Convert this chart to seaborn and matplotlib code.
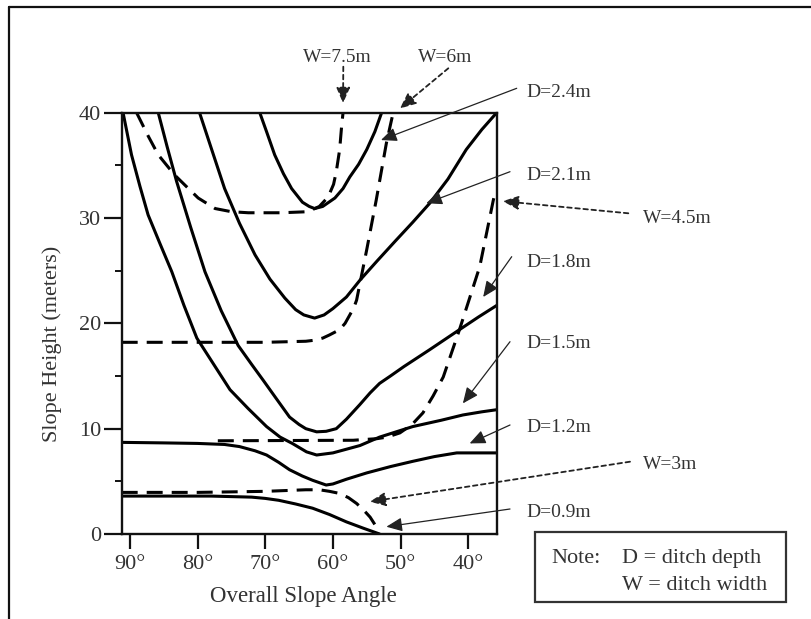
import matplotlib
matplotlib.use("Agg")
import matplotlib.pyplot as plt
from matplotlib.lines import Line2D
from matplotlib.patches import Rectangle
import seaborn as sns
import pandas as pd

# ---------------- data ----------------
# solid curves: ditch depth D
d09_angle = [91.2, 78.0, 72.0, 70.0, 68.0, 65.5, 63.0, 60.5, 58.0, 55.5, 53.1]
d09_height = [3.6, 3.6, 3.5, 3.38, 3.2, 2.85, 2.45, 1.85, 1.15, 0.55, 0.0]

d12_angle = [91.2, 85.0, 80.0, 76.0, 73.8, 71.5, 69.8, 68.0, 66.4, 64.5, 63.0, 61.0,
             60.0, 58.0, 55.0, 51.5, 48.2, 45.0, 41.7, 35.8]
d12_height = [8.7, 8.65, 8.6, 8.5, 8.3, 7.9, 7.5, 6.8, 6.1, 5.5, 5.1, 4.65,
              4.75, 5.2, 5.8, 6.4, 6.9, 7.35, 7.7, 7.7]

d15_angle = [91.0, 89.75, 88.5, 87.3, 85.5, 83.8, 82.0, 80.1, 77.5, 75.2, 72.5, 69.8,
             67.8, 66.0, 63.9, 62.4, 60.0, 56.0, 53.1, 48.2, 44.0, 40.8, 38.0, 35.8]
d15_height = [40.0, 36.0, 33.0, 30.3, 27.5, 24.9, 21.7, 18.6, 16.0, 13.7, 11.9, 10.2,
              9.2, 8.6, 7.8, 7.5, 7.7, 8.4, 9.2, 10.2, 10.8, 11.3, 11.6, 11.8]

d18_angle = [85.8, 84.5, 83.1, 81.0, 78.9, 76.5, 74.0, 72.0, 70.3, 68.3, 66.4, 65.0,
             64.0, 62.4, 61.0, 59.5, 58.0, 56.0, 54.5, 53.1, 51.5, 49.5, 45.7, 41.3,
             38.5, 35.8]
d18_height = [40.0, 36.8, 33.5, 29.1, 24.9, 21.2, 17.9, 16.1, 14.6, 12.8, 11.1, 10.4,
              10.0, 9.7, 9.75, 10.0, 10.9, 12.3, 13.4, 14.3, 15.0, 15.9, 17.5, 19.4,
              20.6, 21.7]

d21_angle = [79.7, 77.8, 76.0, 73.8, 71.5, 69.3, 67.1, 65.5, 64.3, 62.7, 61.3, 60.0,
             58.0, 56.0, 53.5, 50.8, 48.2, 45.7, 43.0, 40.3, 38.0, 35.8]
d21_height = [40.0, 36.3, 32.8, 29.5, 26.5, 24.2, 22.4, 21.3, 20.8, 20.5, 20.8, 21.4,
              22.5, 24.1, 25.9, 27.8, 29.6, 31.4, 33.7, 36.5, 38.4, 40.0]

d24_angle = [70.8, 69.8, 68.6, 67.3, 66.1, 64.5, 63.5, 62.7, 61.5, 59.7, 58.5, 57.5,
             56.2, 55.0, 53.8, 52.8]
d24_height = [40.0, 38.2, 36.0, 34.2, 32.8, 31.5, 31.1, 30.9, 31.1, 31.9, 32.8, 33.9,
              35.1, 36.5, 38.2, 40.0]

# dashed curves: ditch width W
w3_angle = [91.2, 80.0, 70.0, 64.0, 62.0, 60.5, 59.0, 57.7, 56.5, 55.5, 54.5, 53.8, 53.3]
w3_height = [3.95, 3.95, 4.05, 4.2, 4.2, 4.05, 3.85, 3.45, 2.9, 2.3, 1.6, 0.9, 0.2]

w45_angle = [77.0, 57.0, 53.5, 52.0, 50.1, 48.3, 46.7, 45.2, 43.7, 41.3, 38.3, 36.3, 36.1]
w45_height = [8.85, 8.9, 9.05, 9.2, 9.6, 10.4, 11.5, 13.1, 14.9, 19.4, 25.4, 31.7, 32.2]

w6_angle = [91.2, 80.0, 70.0, 64.0, 62.7, 61.5, 60.5, 59.0, 58.2, 57.5, 56.9, 56.5,
            55.0, 53.6, 52.1, 51.1]
w6_height = [18.2, 18.2, 18.2, 18.3, 18.4, 18.6, 18.9, 19.4, 20.0, 20.8, 21.5, 22.2,
             27.0, 31.7, 37.1, 40.0]

w75_angle = [89.0, 87.3, 85.8, 83.4, 81.5, 79.9, 77.4, 75.0, 72.5, 67.6, 63.7, 62.0,
             60.7, 59.9, 59.5, 59.0, 58.7, 58.5]
w75_height = [40.0, 37.8, 36.0, 34.1, 32.9, 31.9, 30.9, 30.6, 30.5, 30.5, 30.6, 31.1,
              32.0, 33.2, 34.4, 36.5, 38.8, 40.0]

x_ticks = [90, 80, 70, 60, 50, 40]
x_tick_labels = ["90°", "80°", "70°", "60°", "50°", "40°"]
y_ticks = [0, 10, 20, 30, 40]
y_minor = [5, 15, 25, 35]

# labels: text, label position (px, baseline px), arrow tail (px), arrow tip (angle, height), dotted?
labels = [
    ("W=7.5m", (303, 61.7), (343.3, 66.7), (58.5, 40.9), True),
    ("W=6m", (418, 61.7), (448.3, 68.3), (50.1, 40.4), True),
    ("D=2.4m", (526.7, 96.7), (516.7, 88.3), (52.9, 37.4), False),
    ("D=2.1m", (526.7, 180.0), (510.0, 171.7), (46.2, 31.4), False),
    ("W=4.5m", (643, 223.0), (628.3, 213.3), (34.9, 31.6), True),
    ("D=1.8m", (526.7, 266.7), (511.7, 256.7), (37.8, 22.5), False),
    ("D=1.5m", (526.7, 348.0), (510.0, 341.7), (40.8, 12.4), False),
    ("D=1.2m", (526.7, 432.0), (510.0, 425.0), (39.8, 8.6), False),
    ("W=3m", (643, 469.0), (630.0, 461.7), (54.55, 3.07), True),
    ("D=0.9m", (526.7, 517.0), (510.0, 509.0), (52.1, 0.69), False),
]

# ---------------- build table ----------------
curves = [
    ("D=0.9m", "D", d09_angle, d09_height),
    ("D=1.2m", "D", d12_angle, d12_height),
    ("D=1.5m", "D", d15_angle, d15_height),
    ("D=1.8m", "D", d18_angle, d18_height),
    ("D=2.1m", "D", d21_angle, d21_height),
    ("D=2.4m", "D", d24_angle, d24_height),
    ("W=3m", "W", w3_angle, w3_height),
    ("W=4.5m", "W", w45_angle, w45_height),
    ("W=6m", "W", w6_angle, w6_height),
    ("W=7.5m", "W", w75_angle, w75_height),
]
rows = []
for name, kind, a, h in curves:
    for ai, hi in zip(a, h):
        rows.append({"curve": name, "kind": kind, "angle": ai, "height": hi})
df = pd.DataFrame(rows)

# ---------------- style ----------------
sns.set_theme(style="ticks")
plt.rcParams["font.family"] = ["Liberation Serif", "DejaVu Serif"]
TXT = "#333333"

W_PX, H_PX = 812, 619
fig = plt.figure(figsize=(W_PX / 100, H_PX / 100), dpi=100)
fig.patch.set_facecolor("white")

def fx(px):
    return px / W_PX

def fy(py):
    return 1 - py / H_PX

L, R, T, B = 121.7, 496.7, 112.7, 534.0
ax = fig.add_axes([fx(L), fy(B), (R - L) / W_PX, (B - T) / H_PX])

lw = 2.2
sns.lineplot(
    data=df, x="angle", y="height", units="curve", estimator=None, sort=False,
    style="kind", dashes={"D": "", "W": (11.5 / lw, 6.5 / lw)},
    color="black", linewidth=lw, legend=False, ax=ax,
)
for ln in ax.get_lines():
    ln.set_solid_joinstyle("round")
    ln.set_dash_joinstyle("round")

ax.set_xlim(91.2, 35.8)
ax.set_ylim(0, 40)
ax.set_xticks(x_ticks)
ax.set_xticklabels(x_tick_labels)
ax.set_yticks(y_ticks)
ax.set_yticks(y_minor, minor=True)
ax.set_xlabel("")
ax.set_ylabel("")
for s in ax.spines.values():
    s.set_visible(True)
    s.set_linewidth(1.7)
    s.set_color("#111111")
ax.tick_params(axis="x", which="major", direction="out", length=11, width=1.6,
               pad=4, labelsize=16, colors="#111111", labelcolor=TXT)
ax.tick_params(axis="y", which="major", direction="out", length=13, width=1.6,
               pad=2, labelsize=16, colors="#111111", labelcolor=TXT)
ax.tick_params(axis="y", which="minor", direction="out", length=5, width=1.4,
               colors="#111111")
ax.set_facecolor("white")

# axis labels
fig.text(fx(303), fy(602), "Overall Slope Angle", ha="center", va="baseline",
         fontsize=16.5, color=TXT)
fig.text(fx(52), fy(344), "Slope Height (meters)", ha="center", va="center",
         rotation=90, fontsize=16, color=TXT)

# annotations
for text, (tx, tb), (ax_px, ay_px), tip, dotted in labels:
    fig.text(fx(tx), fy(tb), text, ha="left", va="baseline", fontsize=14, color=TXT)
    if dotted:
        props = dict(arrowstyle="-|>,head_length=0.8,head_width=0.35", color="#222222",
                     lw=1.3, linestyle=(0, (2.5, 2.0)), shrinkA=0, shrinkB=0)
    else:
        props = dict(arrowstyle="-|>,head_length=0.8,head_width=0.35", color="#222222",
                     lw=0.9, shrinkA=0, shrinkB=0)
    ax.annotate("", xy=tip, xycoords="data",
                xytext=(fx(ax_px), fy(ay_px)), textcoords="figure fraction",
                arrowprops=props, annotation_clip=False)

# note box
fig.add_artist(Rectangle((fx(535), fy(601.7)), (786 - 535) / W_PX, (601.7 - 531.7) / H_PX,
                         transform=fig.transFigure, facecolor="white",
                         edgecolor="#333333", lw=1.6))
fig.text(fx(551.7), fy(563), "Note:", ha="left", va="baseline", fontsize=16, color=TXT)
fig.text(fx(621.7), fy(563), "D = ditch depth", ha="left", va="baseline", fontsize=16, color=TXT)
fig.text(fx(621.7), fy(590), "W = ditch width", ha="left", va="baseline", fontsize=16, color=TXT)

# outer frame (top and left)
fig.add_artist(Line2D([fx(9), 1.0], [fy(7), fy(7)], transform=fig.transFigure,
                      color="#111111", lw=1.6))
fig.add_artist(Line2D([fx(9), fx(9)], [fy(7), 0.0], transform=fig.transFigure,
                      color="#111111", lw=1.6))

fig.savefig("out.png", dpi=100, facecolor="white")
